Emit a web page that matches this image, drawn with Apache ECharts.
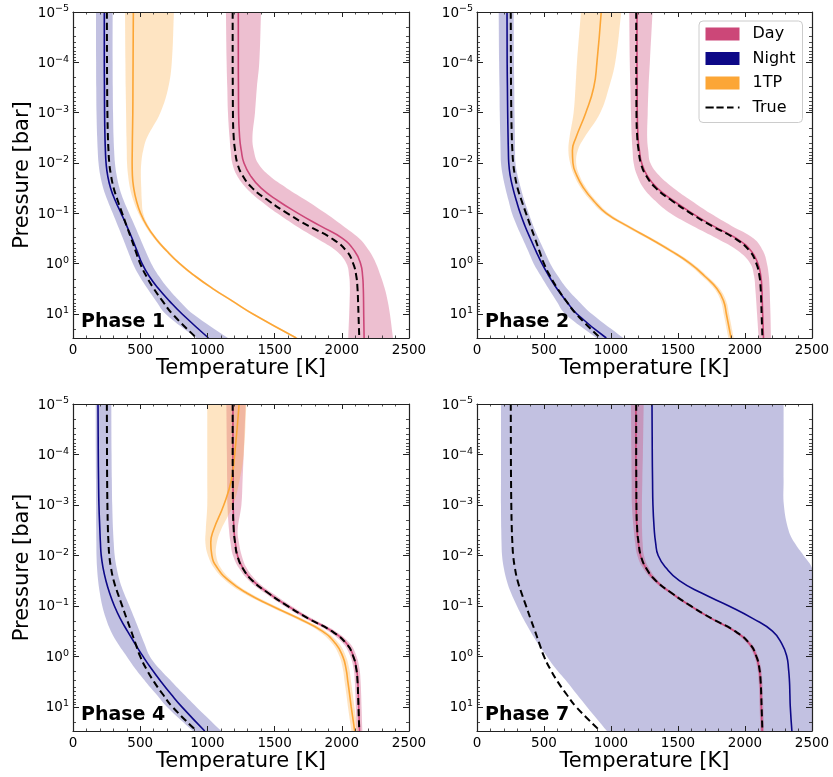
<!DOCTYPE html>
<html><head><meta charset="utf-8">
<script src="https://cdn.jsdelivr.net/npm/echarts@6/dist/echarts.min.js"></script>
<style>html,body{margin:0;padding:0;background:#fff;}#c{width:833px;height:777px;}</style>
</head><body><div id="c"></div>
<script>
// ---------- data ----------
const pressure = [1e-5, 1e-4, 3.16e-4, 1e-3, 3.16e-3, 5.62e-3, 1e-2, 1.78e-2, 3.16e-2, 5.62e-2, 0.1, 0.178, 0.316, 0.562, 1, 1.78, 3.16, 5.62, 10, 30];
const phaseNames = ['Phase 1', 'Phase 2', 'Phase 4', 'Phase 7'];
const xTicks = [0, 500, 1000, 1500, 2000, 2500];

const trueDay   = [1188, 1188, 1189, 1190, 1196, 1206, 1222, 1262, 1335, 1455, 1595, 1752, 1925, 2035, 2085, 2108, 2117, 2121, 2124, 2130];
const trueNight = [252, 253, 254, 256, 260, 264, 270, 283, 303, 333, 366, 399, 433, 466, 500, 546, 602, 668, 740, 920];

// Phase 1
const dayLine1   = [1230, 1230, 1231, 1232, 1240, 1252, 1272, 1320, 1400, 1525, 1675, 1840, 2005, 2095, 2140, 2155, 2160, 2162, 2163, 2166];
const dayLo1     = [1138, 1143, 1148, 1153, 1165, 1173, 1185, 1220, 1290, 1395, 1520, 1660, 1815, 1960, 2035, 2055, 2060, 2058, 2055, 2048];
const dayHi1     = [1399, 1386, 1368, 1354, 1335, 1345, 1376, 1460, 1590, 1740, 1880, 2010, 2130, 2205, 2255, 2290, 2320, 2342, 2358, 2381];
const nightLine1 = [233, 233, 234, 235, 238, 241, 246, 258, 280, 315, 358, 400, 440, 477, 514, 567, 637, 720, 812, 1008];
const nightLo1   = [171, 172, 173, 175, 180, 184, 190, 203, 225, 258, 296, 334, 372, 408, 446, 495, 555, 620, 690, 918];
const nightHi1   = [295, 295, 296, 298, 302, 306, 312, 325, 346, 378, 418, 460, 500, 540, 583, 640, 710, 795, 893, 1153];
const tpLine1    = [449, 447, 446, 445, 442, 441, 440, 442, 452, 472, 503, 550, 615, 698, 794, 910, 1042, 1190, 1339, 1662];
const tpLo1      = [387, 390, 392, 395, 398, 400, 402, 410, 424, 450, 487, 538, 603, 686, 782, 898, 1030, 1178, 1327, 1650];
const tpHi1      = [751, 735, 709, 650, 550, 522, 508, 505, 508, 512, 522, 562, 627, 710, 806, 922, 1054, 1202, 1351, 1674];

// Phase 2
const dayLine2   = [1194, 1194, 1195, 1196, 1202, 1212, 1229, 1270, 1345, 1466, 1607, 1762, 1937, 2046, 2096, 2118, 2126, 2129, 2132, 2138];
const dayLo2     = [1136, 1140, 1145, 1149, 1155, 1161, 1169, 1195, 1244, 1330, 1443, 1610, 1791, 1950, 2040, 2068, 2077, 2084, 2090, 2102];
const dayHi2     = [1310, 1290, 1280, 1274, 1270, 1278, 1294, 1360, 1468, 1600, 1741, 1900, 2065, 2135, 2164, 2178, 2184, 2187, 2190, 2194];
const nightLine2 = [224, 225, 227, 229, 232, 234, 237, 248, 268, 294, 323, 358, 398, 440, 485, 538, 597, 668, 746, 965];
const nightLo2   = [162, 165, 168, 170, 174, 176, 179, 192, 212, 236, 261, 298, 340, 382, 423, 478, 535, 595, 659, 893];
const nightHi2   = [274, 276, 278, 280, 283, 284, 287, 303, 327, 354, 386, 420, 460, 503, 547, 605, 672, 760, 858, 1092];
const tpLine2    = [927, 895, 871, 812, 738, 712, 716, 745, 796, 870, 965, 1120, 1290, 1450, 1592, 1700, 1791, 1841, 1861, 1896];
const tpLo2      = [776, 746, 735, 721, 690, 682, 695, 725, 776, 850, 945, 1100, 1270, 1430, 1572, 1680, 1771, 1821, 1841, 1876];
const tpHi2      = [1077, 1032, 985, 920, 800, 752, 740, 765, 816, 890, 985, 1140, 1310, 1470, 1612, 1720, 1811, 1861, 1881, 1916];

// Phase 4
const dayLine3   = [1190, 1190, 1191, 1192, 1198, 1208, 1224, 1264, 1337, 1457, 1597, 1754, 1927, 2037, 2087, 2110, 2119, 2123, 2126, 2132];
const dayLo3     = [1141, 1145, 1147, 1149, 1161, 1172, 1190, 1235, 1310, 1430, 1570, 1727, 1900, 2012, 2064, 2088, 2097, 2101, 2104, 2110];
const dayHi3     = [1285, 1270, 1262, 1253, 1225, 1235, 1255, 1292, 1365, 1485, 1625, 1780, 1952, 2062, 2110, 2132, 2140, 2144, 2147, 2153];
const nightLine3 = [186, 188, 190, 193, 200, 204, 210, 224, 245, 273, 308, 352, 405, 462, 521, 585, 655, 730, 810, 980];
const nightLo3   = [169, 170, 171, 172, 173, 174, 175, 179, 187, 200, 218, 245, 282, 335, 400, 465, 540, 620, 700, 893];
const nightHi3   = [285, 287, 289, 292, 298, 303, 310, 325, 347, 380, 420, 458, 495, 532, 572, 645, 735, 825, 918, 1104];
const tpLine3    = [1236, 1203, 1179, 1122, 1045, 1025, 1033, 1075, 1160, 1295, 1480, 1680, 1855, 1955, 2007, 2032, 2045, 2058, 2070, 2096];
const tpLo3      = [999, 999, 999, 999, 988, 985, 1004, 1050, 1135, 1270, 1455, 1655, 1830, 1930, 1983, 2008, 2021, 2034, 2046, 2072];
const tpHi3      = [1290, 1270, 1240, 1191, 1100, 1070, 1065, 1100, 1185, 1320, 1505, 1705, 1880, 1980, 2031, 2056, 2069, 2082, 2094, 2120];

// Phase 7
const dayLine4   = [1186, 1186, 1187, 1188, 1194, 1204, 1220, 1260, 1333, 1453, 1593, 1750, 1923, 2033, 2083, 2106, 2115, 2119, 2122, 2128];
const dayLo4     = [1149, 1152, 1154, 1156, 1170, 1180, 1196, 1238, 1315, 1437, 1578, 1735, 1908, 2018, 2070, 2093, 2102, 2106, 2109, 2115];
const dayHi4     = [1244, 1238, 1234, 1231, 1232, 1236, 1246, 1283, 1352, 1470, 1610, 1766, 1940, 2050, 2098, 2121, 2130, 2134, 2137, 2143];
const nightLine4 = [1306, 1308, 1310, 1313, 1323, 1333, 1352, 1412, 1510, 1680, 1880, 2060, 2205, 2275, 2312, 2325, 2332, 2335, 2338, 2350];
const nightLo4   = [179, 179, 179, 179, 181, 183, 187, 200, 222, 255, 298, 345, 398, 455, 522, 590, 671, 745, 821, 970];
const nightHi4   = [2288, 2288, 2288, 2290, 2325, 2370, 2437, 2510, 2600, 2600, 2600, 2600, 2600, 2600, 2600, 2600, 2600, 2600, 2600, 2600];

// ---------- styling ----------
const FONT = 'DejaVu Sans';
const C_DAY = '#cc4778', C_NIGHT = '#0d0887', C_TP = '#fca636';
const panels = [
  {day:[dayLo1,dayLine1,dayHi1], night:[nightLo1,nightLine1,nightHi1], tp:[tpLo1,tpLine1,tpHi1]},
  {day:[dayLo2,dayLine2,dayHi2], night:[nightLo2,nightLine2,nightHi2], tp:[tpLo2,tpLine2,tpHi2]},
  {day:[dayLo3,dayLine3,dayHi3], night:[nightLo3,nightLine3,nightHi3], tp:[tpLo3,tpLine3,tpHi3]},
  {day:[dayLo4,dayLine4,dayHi4], night:[nightLo4,nightLine4,nightHi4], tp:null}
];
const grids = [
  {left:73, top:12, width:336, height:326},
  {left:477, top:12, width:335, height:326},
  {left:73, top:404, width:336, height:327},
  {left:477, top:404, width:335, height:327}
];

function pow10Label(v){
  const e = Math.log10(v), r = Math.round(e);
  if (Math.abs(e - r) > 1e-6) return '';
  return '{b|10}{s|' + (r < 0 ? '\u2212' + (-r) : String(r)) + '}';
}

const xAxes = [], yAxes = [], series = [], graphics = [];
grids.forEach((g, gi) => {
  const common = {gridIndex: gi, type: 'value', min: 0, max: 2500, interval: 500, z: 5,
    axisLine: {show: true, onZero: false, lineStyle: {color: '#222', width: 1.2}},
    axisTick: {show: true, inside: true, length: 5, lineStyle: {color: '#222', width: 1}},
    minorTick: {show: true, splitNumber: 5, length: 2.5, lineStyle: {color: '#222', width: 0.8}},
    splitLine: {show: false}, minorSplitLine: {show: false}};
  xAxes.push(Object.assign({}, common, {position: 'bottom',
    axisLabel: {show: true, margin: 5, fontFamily: FONT, fontSize: 13.5, color: '#000',
      formatter: v => (xTicks.indexOf(v) >= 0 ? String(v) : '')},
    name: 'Temperature [K]', nameLocation: 'middle', nameGap: 20,
    nameTextStyle: {fontFamily: FONT, fontSize: 21, color: '#000'}}));
  xAxes.push(Object.assign({}, common, {position: 'top', axisLabel: {show: false}}));
  const ycommon = {gridIndex: gi, type: 'log', logBase: 10, min: 1e-5, max: 30, inverse: true, z: 5,
    axisLine: {show: true, onZero: false, lineStyle: {color: '#222', width: 1.2}},
    axisTick: {show: true, inside: true, length: 6, lineStyle: {color: '#222', width: 1}},
    minorTick: {show: true, splitNumber: 9, length: 3, lineStyle: {color: '#222', width: 0.8}},
    splitLine: {show: false}, minorSplitLine: {show: false}};
  const yl = Object.assign({}, ycommon, {position: 'left',
    axisLabel: {show: true, margin: 4, formatter: pow10Label, color: '#000',
      rich: {b: {fontFamily: FONT, fontSize: 13.5, color: '#000', lineHeight: 16, verticalAlign: 'bottom'},
             s: {fontFamily: FONT, fontSize: 9.5, color: '#000', lineHeight: 10, verticalAlign: 'top'}}}});
  if (gi % 2 === 0) {
    yl.name = 'Pressure [bar]'; yl.nameLocation = 'middle'; yl.nameGap = 40;
    yl.nameTextStyle = {fontFamily: FONT, fontSize: 21, color: '#000'};
  }
  yAxes.push(yl);
  yAxes.push(Object.assign({}, ycommon, {position: 'right', axisLabel: {show: false}}));

  const xi = gi * 2, yi = gi * 2;
  const p = panels[gi];
  function band(lo, hi, color, alpha, z) {
    return {type: 'custom', xAxisIndex: xi, yAxisIndex: yi, silent: true, z: z, clip: true,
      data: pressure.map((pv, i) => [lo[i], pv, hi[i]]),
      encode: {x: [0, 2], y: 1},
      renderItem: function(params, api) {
        if (params.dataIndex !== 0) return;
        const n = pressure.length;
        const L = [], R = [];
        for (let i = 0; i < n; i++) L.push(api.coord([lo[i], pressure[i]]));
        for (let i = n - 1; i >= 0; i--) R.push(api.coord([hi[i], pressure[i]]));
        // duplicate the four corner points so that the smoothing keeps them sharp
        const pts = [L[0]].concat(L, [L[n - 1]], [R[0]], R, [R[n - 1]]);
        const cs = params.coordSys;
        const clipped = echarts.graphic.clipPointsByRect(pts, cs);
        return {type: 'polygon', shape: {points: clipped, smooth: 0.4,
            smoothConstraint: [[cs.x, cs.y], [cs.x + cs.width, cs.y + cs.height]]},
          style: {fill: color, opacity: alpha}};
      }};
  }
  function line(name, vals, color, width, dash, z) {
    return {type: 'line', name: name, xAxisIndex: xi, yAxisIndex: yi, z: z, silent: true,
      data: pressure.map((pv, i) => [vals[i], pv]), showSymbol: false, symbol: 'none',
      smooth: 0.5, clip: true, animation: false,
      lineStyle: {color: color, width: width, type: dash ? [7, 4] : 'solid'},
      itemStyle: {color: color}};
  }
  series.push(band(p.night[0], p.night[2], C_NIGHT, 0.25, 2));
  series.push(band(p.day[0], p.day[2], C_DAY, 0.35, 2));
  if (p.tp) series.push(band(p.tp[0], p.tp[2], C_TP, 0.3, 2));
  series.push(line('Night', p.night[1], C_NIGHT, 1.6, false, 3));
  series.push(line('Day', p.day[1], C_DAY, 1.6, false, 3));
  if (p.tp) series.push(line('1TP', p.tp[1], C_TP, 1.6, false, 3));
  series.push(line('True', trueNight, '#000', 2, true, 4));
  series.push(line('True', trueDay, '#000', 2, true, 4));

  graphics.push({type: 'text', left: g.left + 8, top: g.top + g.height - 25, z: 100,
    style: {text: phaseNames[gi], font: 'bold 19px "DejaVu Sans"', fill: '#000'}});
});

const dashIcon = 'path://M0,0L0,0M34,13L34,13M0,5.5h8.3v2h-8.3zM11,5.5h7.3v2h-7.3zM21.7,5.5h6.6v2h-6.6zM32.7,5.5h1.6v2h-1.6z';

const chart = echarts.init(document.getElementById('c'), null, {renderer: 'canvas'});
chart.setOption({
  animation: false,
  backgroundColor: '#fff',
  grid: grids.map(g => Object.assign({containLabel: false}, g)),
  xAxis: xAxes, yAxis: yAxes, series: series, graphic: graphics,
  legend: {show: true, selectedMode: false, orient: 'vertical', left: 699, top: 21,
    padding: [5, 7, 7, 6.5], itemGap: 8.5, itemWidth: 34, itemHeight: 13,
    borderColor: '#cccccc', borderWidth: 1, borderRadius: 4, backgroundColor: 'rgba(255,255,255,0.85)',
    textStyle: {fontFamily: FONT, fontSize: 16, color: '#000', padding: [0, 0, 0, 8]},
    data: [
      {name: 'Day', icon: 'rect', itemStyle: {color: C_DAY, borderWidth: 0}},
      {name: 'Night', icon: 'rect', itemStyle: {color: C_NIGHT, borderWidth: 0}},
      {name: '1TP', icon: 'rect', itemStyle: {color: C_TP, borderWidth: 0}},
      {name: 'True', icon: dashIcon, itemStyle: {color: '#000', borderWidth: 0}}
    ]}
});
</script></body></html>
